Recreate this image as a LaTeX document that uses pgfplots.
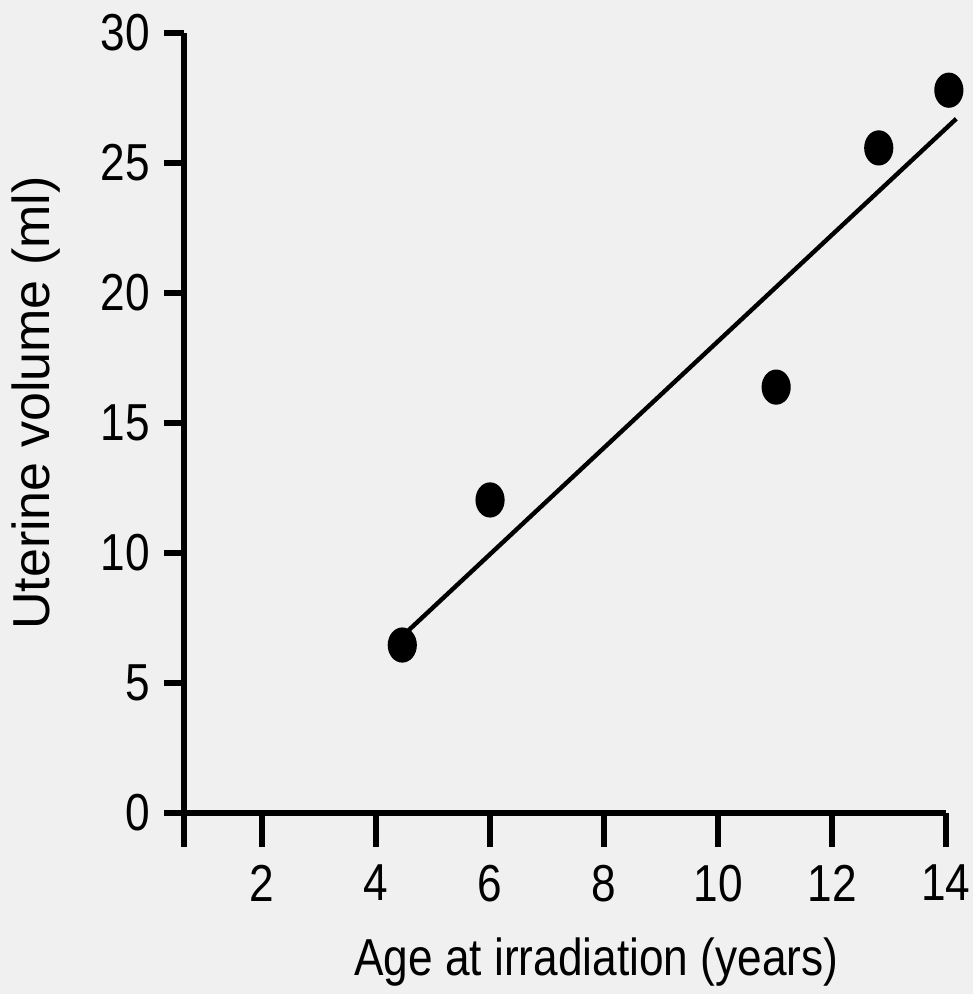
\documentclass[border=0pt]{standalone}
\usepackage{fontspec}
\setmainfont[FakeStretch=0.85]{Liberation Sans}
\newfontfamily\ylabfont{Liberation Sans}
\usepackage{pgfplots}
\pgfplotsset{compat=1.18}
\definecolor{paper}{RGB}{240,240,240}

\begin{document}
\begin{tikzpicture}
% scanned page background, also fixes the picture's extent
\fill[paper] (-46pt,-45.25pt) rectangle (197.25pt,203.25pt);
\begin{axis}[
    scale only axis,
    width=190.5pt, height=195pt,
    xmin=0.63, xmax=14,
    ymin=0, ymax=30,
    axis lines=left,
    axis line style={-, line width=1.5pt},
    tick align=outside,
    major tick length=5pt,
    tick style={line width=1.4pt, black},
    xtick={0.63,2,4,6,8,10,12,14},
    xticklabels={,2,4,6,8,10,12,14},
    ytick={0,5,...,30},
    xtick style={/pgfplots/major tick length=8.5pt},
    /pgf/number format/assume math mode=true,
    tick label style={font=\fontsize{13pt}{15.6pt}\selectfont},
    xticklabel style={yshift=-4.5pt},
    label style={font=\fontsize{13pt}{15.6pt}\selectfont},
    xlabel={Age at irradiation (years)},
    ylabel={\ylabfont Uterine volume (ml)},
    xlabel style={at={(rel axis cs:0.541,-0.2077)}, anchor=base},
    ylabel style={at={(rel axis cs:-0.1759,0.5256)}, anchor=base},
    clip=false,
    ]
\addplot[only marks, mark=*, mark size=4.2pt, mark options={xscale=0.82, fill=black}]
    coordinates {(4.46,6.46) (6.0,12.04) (11.02,16.38) (12.82,25.58) (14.05,27.8)};
\addplot[line width=1.1pt, black] coordinates {(4.46,6.8) (14.18,26.7)};
\end{axis}
\pgfresetboundingbox
\path[use as bounding box] (-46pt,-45.25pt) rectangle (197.25pt,203.25pt);
\end{tikzpicture}
\end{document}
